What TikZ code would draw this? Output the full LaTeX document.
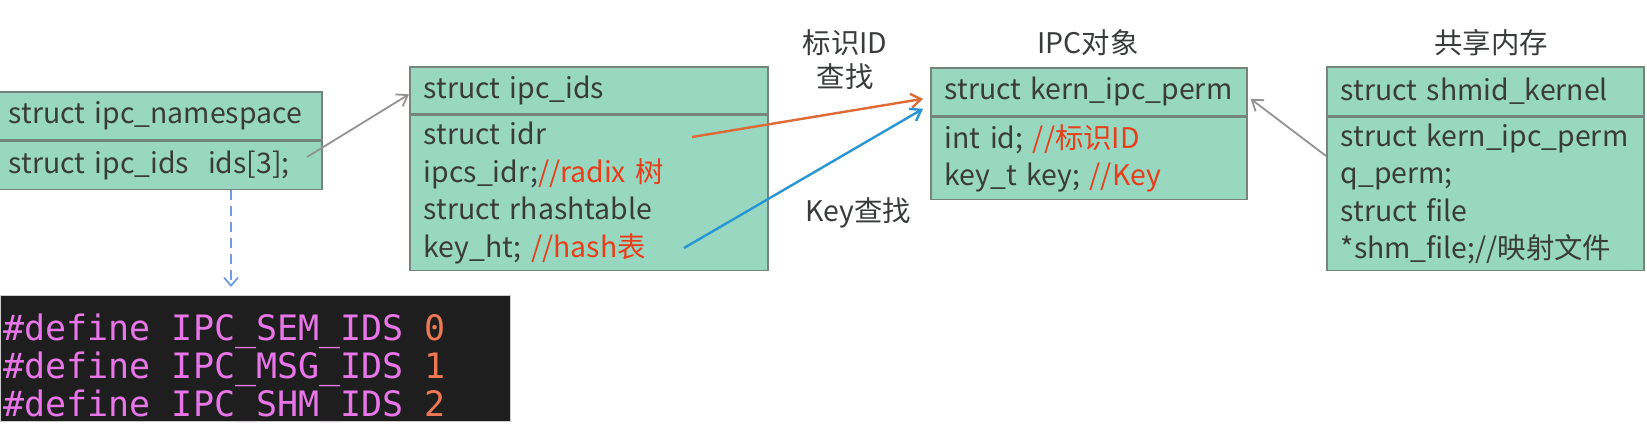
\documentclass[tikz,border=0pt]{standalone}
\usepackage{fontspec}
\setmainfont{Noto Sans CJK SC}
\newfontfamily\codefont{DejaVu Sans Mono}
\usetikzlibrary{arrows.meta}

\definecolor{boxfill}{RGB}{152,216,193}
\definecolor{boxline}{RGB}{118,132,126}
\definecolor{txt}{RGB}{58,60,60}
\definecolor{cmt}{RGB}{232,62,26}
\definecolor{idarrow}{RGB}{222,106,54}
\definecolor{keyarrow}{RGB}{40,150,210}
\definecolor{dasharrow}{RGB}{110,155,225}
\definecolor{codebg}{RGB}{30,30,30}
\definecolor{codekw}{RGB}{232,118,232}
\definecolor{codenum}{RGB}{238,120,84}

\tikzset{
  cell/.style={draw=boxline, fill=boxfill, line width=0.8pt, anchor=north west,
    inner xsep=7pt, inner ysep=0pt, align=left, text=txt,
    font=\fontsize{14.2}{18.75}\selectfont},
  note/.style={text=txt, align=center, font=\fontsize{14.2}{17}\selectfont},
  link/.style={draw=gray!85, line width=0.9pt, -{Straight Barb[length=5pt,width=7pt]}},
  code/.style={anchor=base west, inner sep=0pt, text=codekw,
    font=\codefont\fontsize{17.5}{19}\selectfont}
}

\begin{document}
\begin{tikzpicture}[x=0.5pt,y=-0.5pt]
		\useasboundingbox (0,0) rectangle (1647,441);
		% ipc namespace
		\node[cell, text width=149.5pt, minimum height=24pt] (nshead) at (-6,91) {struct ipc\_namespace};
		\node[cell, text width=149.5pt, minimum height=24pt] (nsbody) at (nshead.south west) {struct ipc\_ids\ \ ids[3];};
		% ipc ids
		\node[cell, text width=165pt, minimum height=23.5pt] (idshead) at (409,66) {struct ipc\_ids};
		\node[cell, text width=165pt, minimum height=77.5pt] (idsbody) at (idshead.south west) {struct idr\\ipcs\_idr;{\color{cmt}//radix 树}\\struct rhashtable\\key\_ht; {\color{cmt}//hash表}};
		% kern ipc perm
		\node[cell, text width=144pt, minimum height=24pt] (permhead) at (930,67) {struct kern\_ipc\_perm};
		\node[cell, text width=144pt, minimum height=41pt] (permbody) at (permhead.south west) {int id; {\color{cmt}//标识ID}\\key\_t key; {\color{cmt}//Key}};
		% shmid kernel
		\node[cell, text width=144.5pt, minimum height=24.5pt] (shmhead) at (1326,66) {struct shmid\_kernel};
		\node[cell, text width=144.5pt, minimum height=76.5pt] (shmbody) at (shmhead.south west) {struct kern\_ipc\_perm\\q\_perm;\\struct file\\{*}shm\_file;//映射文件};
		% labels
		\node[note] (idlbl) at (845,60) {标识ID\\查找};
		\node[note] (keylbl) at (858,213) {Key查找};
		\node[note] (objlbl) at (1088,43) {IPC对象};
		\node[note] (shmlbl) at (1491,43) {共享内存};
		% code
		\node[anchor=north west, fill=codebg, draw=gray!40, line width=0.5pt, inner sep=0pt,
			minimum width=255pt, minimum height=63pt] (codebox) at (0,295) {};
		\begin{scope}
			\clip (codebox.south west) rectangle (codebox.north east);
			\node[code] (sem) at (3,340) {\#define IPC\_SEM\_IDS {\color{codenum}0}};
			\node[code] (msg) at (3,378) {\#define IPC\_MSG\_IDS {\color{codenum}1}};
			\node[code] (shm) at (3,416) {\#define IPC\_SHM\_IDS {\color{codenum}2}};
		\end{scope}
		% connectors
		\coordinate (nsout) at (307,157);
		\coordinate (idrout) at (692,137);
		\coordinate (htout) at (684,248);
		\coordinate (dashend) at (231,287);
		\draw[link] (nsout) -- ([yshift=-2pt]idshead.west);
		\draw[link] ([yshift=19pt]shmbody.west) -- ([xshift=1.5pt,yshift=-3.5pt]permhead.east);
		\draw[line width=1.2pt, idarrow, -{Straight Barb[length=5pt,width=7pt]}] (idrout) -- ([xshift=-3.5pt,yshift=-3.5pt]permhead.west);
		\draw[line width=1.2pt, keyarrow, -{Straight Barb[length=5pt,width=7pt]}] (htout) -- ([xshift=-3.5pt,yshift=-8.5pt]permhead.west);
		\draw[line width=0.9pt, dasharrow, dash pattern=on 5pt off 3pt, -{Straight Barb[length=4pt,width=7pt]}] (nsbody.south -| dashend) -- (dashend);
	\end{tikzpicture}
\end{document}
